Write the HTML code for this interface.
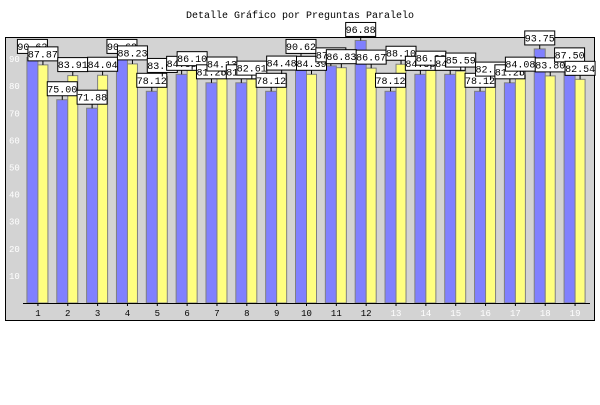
<!DOCTYPE html>
<html><head><meta charset="utf-8"><style>
body{margin:0;background:#fff;width:600px;height:400px;overflow:hidden}
text{font-family:"Liberation Mono",monospace}
</style></head><body>
<svg id="chart" width="600" height="400" xmlns="http://www.w3.org/2000/svg">
<text x="300" y="18" text-anchor="middle" font-size="10" fill="#000">Detalle Gráfico por Preguntas Paralelo</text>
<rect x="5.5" y="37.5" width="589" height="283" fill="#d3d3d3" stroke="#000" stroke-width="1"/>
<g id="bars"></g><g id="labels"></g><g id="axes"></g>
</svg>
<script>
const categories=["1","2","3","4","5","6","7","8","9","10","11","12","13","14","15","16","17","18","19"];
const seriesA=[90.62,75.00,71.88,90.62,78.12,84.38,81.25,81.25,78.12,90.62,87.50,96.88,78.12,84.38,84.38,78.12,81.25,93.75,87.50];
const seriesB=[87.87,83.91,84.04,88.23,83.60,86.10,84.13,82.61,84.48,84.39,86.83,86.67,88.10,86.28,85.59,82.25,84.08,83.80,82.54];
const yTicks=[10,20,30,40,50,60,70,80,90];
const NS="http://www.w3.org/2000/svg";
const x0=23,x1=590,y0=303,pxPerUnit=2.71;
const step=(x1-x0)/categories.length;
function xC(i){return x0+step*(i+0.5);}
function yV(v){return y0-v*pxPerUnit;}
function mk(tag,attrs,parent){const e=document.createElementNS(NS,tag);for(const k in attrs)e.setAttribute(k,attrs[k]);parent.appendChild(e);return e;}
const gb=document.getElementById('bars'),gl=document.getElementById('labels'),ga=document.getElementById('axes');
function label(x,v,i){
  const g=mk('g',{},gl);
  
  
  const t=yV(v);
  mk('line',{x1:x,y1:t,x2:x,y2:t-4,stroke:'#000'},g);
  mk('rect',{x:x-15,y:t-18,width:30,height:14,fill:'#fff',stroke:'#000'},g);
  const tx=mk('text',{x:x,y:t-7.5,'text-anchor':'middle','font-size':'10',fill:'#000'},g);
  tx.textContent=v.toFixed(2);
}
categories.forEach((c,i)=>{
  const cx=xC(i);
  const a=mk('rect',{x:cx-11,y:yV(seriesA[i]),width:11,height:seriesA[i]*pxPerUnit,fill:'#8080ff',stroke:'#808080'},gb);
  
  
  const b=mk('rect',{x:cx,y:yV(seriesB[i]),width:10,height:seriesB[i]*pxPerUnit,fill:'#ffff80',stroke:'#808080'},gb);
  
  
  const t=mk('text',{x:cx,y:316,'text-anchor':'middle','font-size':'9',fill:i<12?'#000':'#fff'},ga);
  
  
  t.textContent=c;
  mk('line',{x1:cx,y1:y0,x2:cx,y2:y0+3,stroke:'#000'},ga);
});
categories.forEach((c,i)=>{label(xC(i)-5.5,seriesA[i],i);label(xC(i)+5,seriesB[i],i);});
yTicks.forEach(v=>{
  const t=mk('text',{x:9,y:yV(v)+3,'font-size':'9',fill:'#fff'},ga);
  
  
  t.textContent=v;
});
const ax=mk('line',{x1:x0,y1:y0+0.5,x2:x1,y2:y0+0.5,stroke:'#000'},ga);


</script>
</body></html>
